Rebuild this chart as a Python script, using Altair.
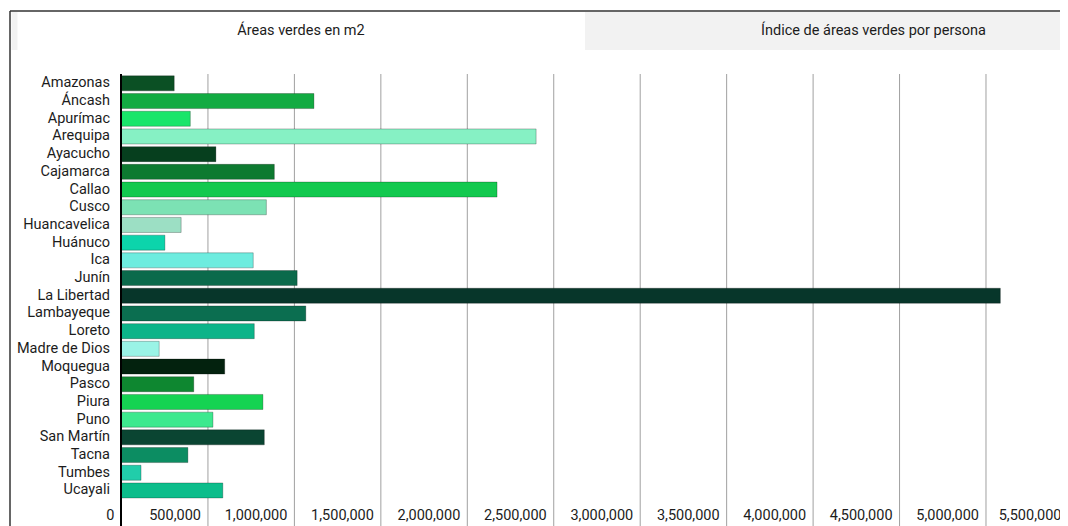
import altair as alt
import pandas as pd

regions = ["Amazonas", "Áncash", "Apurímac", "Arequipa", "Ayacucho", "Cajamarca",
           "Callao", "Cusco", "Huancavelica", "Huánuco", "Ica", "Junín",
           "La Libertad", "Lambayeque", "Loreto", "Madre de Dios", "Moquegua",
           "Pasco", "Piura", "Puno", "San Martín", "Tacna", "Tumbes", "Ucayali"]
areas = [305000, 1113000, 398000, 2398000, 546000, 884000,
         2172000, 838000, 345000, 251000, 762000, 1016000,
         5083000, 1066000, 768000, 218000, 597000,
         418000, 818000, 529000, 826000, 384000, 113000, 586000]
colors = ["#0b5024", "#12ab42", "#19e56a", "#86f1c4", "#063f1e", "#0d7a30",
          "#13c94f", "#7ce2b4", "#9cdfc4", "#0cd4ab", "#6decdf", "#0b6a4b",
          "#07362a", "#0b6e50", "#0cb489", "#9af3e6", "#03220e",
          "#0e8730", "#15d352", "#3de98e", "#0a4532", "#0c8d62", "#21cdaa", "#0cbd8b"]
x_ticks = [0, 500000, 1000000, 1500000, 2000000, 2500000, 3000000,
           3500000, 4000000, 4500000, 5000000, 5500000]
tabs = ["Áreas verdes en m2", "Índice de áreas verdes por persona"]

df = pd.DataFrame({"region": regions, "area": areas})
grid_df = pd.DataFrame({"area": x_ticks[1:]})
lab_df = pd.DataFrame({"area": x_ticks[:-1]})
last_df = pd.DataFrame({"area": x_ticks[-1:]})
one = pd.DataFrame({"k": [0]})

PLOT_W = 938.5
PLOT_H = 452
FONT = "Roboto"
FS = 14.5
TXT = "#1c1c1c"

xscale = alt.Scale(domain=[0, 5428000], nice=False, zero=True)

grid = alt.Chart(grid_df).mark_rule(color="#a0a0a0", strokeWidth=1).encode(
    x=alt.X("area:Q", scale=xscale, axis=None),
    y=alt.value(0), y2=alt.value(PLOT_H)
)

bars = alt.Chart(df).mark_bar(stroke="#000000", strokeOpacity=0.25, strokeWidth=1).encode(
    x=alt.X("area:Q", scale=xscale, axis=None),
    y=alt.Y("region:N", sort=regions,
            scale=alt.Scale(range=[0.5, 425.3], paddingInner=0.15, paddingOuter=0.075),
            axis=alt.Axis(title=None, ticks=False, domain=False, grid=False, labelPadding=12,
                          labelFont=FONT, labelFontSize=FS, labelColor=TXT)),
    color=alt.Color("region:N", sort=regions, scale=alt.Scale(domain=regions, range=colors),
                    legend=None)
)

x_labels = alt.Chart(lab_df).mark_text(font=FONT, fontSize=FS, color=TXT, align="right",
                                       baseline="alphabetic", dx=-7).encode(
    x=alt.X("area:Q", scale=xscale, axis=None),
    y=alt.value(PLOT_H - 6),
    text=alt.Text("area:Q", format=",d")
)

last_label = alt.Chart(last_df).mark_text(font=FONT, fontSize=FS, color=TXT, align="right",
                                          baseline="alphabetic", dx=-11).encode(
    x=alt.X("area:Q", scale=xscale, axis=None),
    y=alt.value(PLOT_H - 6),
    text=alt.Text("area:Q", format=",d")
)

yline = alt.Chart(one).mark_rule(color="#000000", strokeWidth=2).encode(
    x=alt.value(-0.5), y=alt.value(0), y2=alt.value(PLOT_H)
)

tab_bg = alt.Chart(one).mark_rect(color="#f2f2f2").encode(
    x=alt.value(463.5), x2=alt.value(960), y=alt.value(-62), y2=alt.value(-24)
)
strip = alt.Chart(one).mark_rect(color="#f2f2f2").encode(
    x=alt.value(-110), x2=alt.value(-104), y=alt.value(-62), y2=alt.value(-24)
)
top_border = alt.Chart(one).mark_rule(color="#333333", strokeWidth=1.5).encode(
    x=alt.value(-111.5), x2=alt.value(960), y=alt.value(-63)
)
left_border = alt.Chart(one).mark_rule(color="#333333", strokeWidth=1.5).encode(
    x=alt.value(-111.5), y=alt.value(-63), y2=alt.value(PLOT_H + 10)
)
tab1 = alt.Chart(one).mark_text(font=FONT, fontSize=FS, color=TXT,
                                align="center", baseline="alphabetic").encode(
    x=alt.value(179.5), y=alt.value(-39), text=alt.value(tabs[0])
)
tab2 = alt.Chart(one).mark_text(font=FONT, fontSize=FS, color=TXT,
                                align="center", baseline="alphabetic").encode(
    x=alt.value(752), y=alt.value(-39), text=alt.value(tabs[1])
)

chart = alt.layer(grid, bars, x_labels, last_label, yline, tab_bg, strip, top_border,
                  left_border, tab1, tab2).properties(
    width=PLOT_W, height=PLOT_H, autosize="none",
    padding={"left": 113.5, "top": 66, "right": 0, "bottom": 0}
).configure_view(stroke=None)

chart.save("out.html", embed_options={"renderer": "svg", "actions": False})
